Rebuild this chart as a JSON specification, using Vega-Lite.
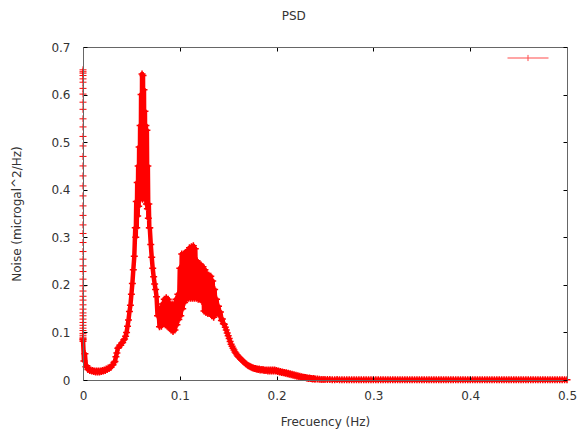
{
"$schema": "https://vega.github.io/schema/vega-lite/v6.json",
"width": 484, "height": 333,
"autosize": {"type": "none"},
"padding": {"left": 83, "top": 47, "right": 12, "bottom": 50},
"background": "white",
"title": {"text": "PSD", "fontSize": 12, "fontWeight": "normal", "font": "DejaVu Sans", "color": "#333", "frame": "bounds", "offset": 14},
"config": {"font": "DejaVu Sans", "view": {"stroke": null}},
"datasets": {
"psd": [
{"f":0.000,"p":0.085},{"f":0.001,"p":0.040},{"f":0.002,"p":0.055},{"f":0.003,"p":0.028},{"f":0.004,"p":0.030},
{"f":0.005,"p":0.022},{"f":0.006,"p":0.023},{"f":0.007,"p":0.020},{"f":0.008,"p":0.021},{"f":0.009,"p":0.019},
{"f":0.010,"p":0.020},{"f":0.011,"p":0.018},{"f":0.012,"p":0.019},{"f":0.013,"p":0.017},{"f":0.014,"p":0.019},
{"f":0.015,"p":0.017},{"f":0.016,"p":0.019},{"f":0.017,"p":0.017},{"f":0.018,"p":0.019},{"f":0.019,"p":0.018},
{"f":0.020,"p":0.020},{"f":0.021,"p":0.019},{"f":0.022,"p":0.021},{"f":0.023,"p":0.020},{"f":0.024,"p":0.023},
{"f":0.025,"p":0.022},{"f":0.026,"p":0.025},{"f":0.027,"p":0.024},{"f":0.028,"p":0.027},{"f":0.029,"p":0.027},
{"f":0.030,"p":0.031},{"f":0.031,"p":0.032},{"f":0.032,"p":0.037},{"f":0.033,"p":0.039},{"f":0.034,"p":0.049},
{"f":0.035,"p":0.057},{"f":0.036,"p":0.067},{"f":0.037,"p":0.069},{"f":0.038,"p":0.073},{"f":0.039,"p":0.073},
{"f":0.040,"p":0.078},{"f":0.041,"p":0.079},{"f":0.042,"p":0.084},{"f":0.043,"p":0.086},{"f":0.044,"p":0.092},
{"f":0.045,"p":0.100},{"f":0.046,"p":0.113},{"f":0.047,"p":0.126},{"f":0.048,"p":0.144},{"f":0.049,"p":0.157},
{"f":0.050,"p":0.180},{"f":0.051,"p":0.203},{"f":0.052,"p":0.232},{"f":0.053,"p":0.260},
{"f":0.0540,"p":0.320},{"f":0.0545,"p":0.300},{"f":0.0550,"p":0.375},{"f":0.0555,"p":0.320},
{"f":0.0560,"p":0.415},{"f":0.0565,"p":0.345},{"f":0.0570,"p":0.450},{"f":0.0575,"p":0.365},
{"f":0.0580,"p":0.490},{"f":0.0585,"p":0.380},{"f":0.0590,"p":0.535},{"f":0.0595,"p":0.390},
{"f":0.0600,"p":0.600},{"f":0.0605,"p":0.385},{"f":0.0610,"p":0.643},{"f":0.0615,"p":0.380},
{"f":0.0620,"p":0.640},{"f":0.0625,"p":0.385},{"f":0.0630,"p":0.610},{"f":0.0635,"p":0.385},
{"f":0.0640,"p":0.565},{"f":0.0645,"p":0.380},{"f":0.0650,"p":0.535},{"f":0.0655,"p":0.370},
{"f":0.0660,"p":0.525},{"f":0.0665,"p":0.360},{"f":0.0670,"p":0.450},{"f":0.0675,"p":0.340},
{"f":0.0680,"p":0.370},{"f":0.0685,"p":0.320},{"f":0.0690,"p":0.320},
{"f":0.070,"p":0.285},{"f":0.071,"p":0.258},{"f":0.072,"p":0.235},{"f":0.073,"p":0.217},{"f":0.074,"p":0.202},
{"f":0.075,"p":0.190},{"f":0.076,"p":0.175},{"f":0.077,"p":0.135},{"f":0.078,"p":0.152},{"f":0.079,"p":0.112},
{"f":0.080,"p":0.150},{"f":0.081,"p":0.113},{"f":0.082,"p":0.160},{"f":0.083,"p":0.118},{"f":0.084,"p":0.170},
{"f":0.085,"p":0.116},{"f":0.086,"p":0.173},{"f":0.087,"p":0.113},{"f":0.088,"p":0.170},{"f":0.089,"p":0.110},
{"f":0.090,"p":0.160},{"f":0.091,"p":0.105},{"f":0.092,"p":0.160},{"f":0.093,"p":0.102},{"f":0.094,"p":0.158},
{"f":0.095,"p":0.105},{"f":0.096,"p":0.170},{"f":0.097,"p":0.116},{"f":0.098,"p":0.180},{"f":0.099,"p":0.127},
{"f":0.100,"p":0.235},{"f":0.101,"p":0.135},{"f":0.102,"p":0.265},{"f":0.103,"p":0.150},{"f":0.104,"p":0.265},
{"f":0.105,"p":0.163},{"f":0.106,"p":0.268},{"f":0.107,"p":0.170},{"f":0.108,"p":0.272},{"f":0.109,"p":0.172},
{"f":0.110,"p":0.278},{"f":0.111,"p":0.172},{"f":0.112,"p":0.280},{"f":0.113,"p":0.172},{"f":0.114,"p":0.282},
{"f":0.115,"p":0.172},{"f":0.116,"p":0.276},{"f":0.117,"p":0.172},{"f":0.118,"p":0.250},{"f":0.119,"p":0.170},
{"f":0.120,"p":0.245},{"f":0.121,"p":0.170},{"f":0.122,"p":0.242},{"f":0.123,"p":0.165},{"f":0.124,"p":0.238},
{"f":0.125,"p":0.145},{"f":0.126,"p":0.232},{"f":0.127,"p":0.142},{"f":0.128,"p":0.224},{"f":0.129,"p":0.140},
{"f":0.130,"p":0.220},{"f":0.131,"p":0.140},{"f":0.132,"p":0.218},{"f":0.133,"p":0.135},{"f":0.134,"p":0.208},
{"f":0.135,"p":0.132},{"f":0.136,"p":0.190},{"f":0.137,"p":0.140},{"f":0.138,"p":0.170},{"f":0.139,"p":0.144},
{"f":0.140,"p":0.155},{"f":0.141,"p":0.135},{"f":0.142,"p":0.143},{"f":0.143,"p":0.125},{"f":0.144,"p":0.128},
{"f":0.145,"p":0.118},{"f":0.146,"p":0.117},{"f":0.147,"p":0.111},{"f":0.148,"p":0.105},{"f":0.149,"p":0.099},
{"f":0.150,"p":0.093},{"f":0.151,"p":0.087},{"f":0.152,"p":0.081},{"f":0.153,"p":0.075},{"f":0.154,"p":0.071},
{"f":0.155,"p":0.067},{"f":0.156,"p":0.063},{"f":0.157,"p":0.059},{"f":0.158,"p":0.056},{"f":0.159,"p":0.053},
{"f":0.160,"p":0.050},{"f":0.161,"p":0.048},{"f":0.162,"p":0.046},{"f":0.163,"p":0.044},{"f":0.164,"p":0.042},
{"f":0.165,"p":0.040},{"f":0.166,"p":0.038},{"f":0.167,"p":0.036},{"f":0.168,"p":0.034},{"f":0.169,"p":0.033},
{"f":0.170,"p":0.031},{"f":0.171,"p":0.030},{"f":0.172,"p":0.029},{"f":0.173,"p":0.028},{"f":0.174,"p":0.027},
{"f":0.175,"p":0.026},{"f":0.176,"p":0.025},{"f":0.177,"p":0.024},{"f":0.178,"p":0.024},{"f":0.179,"p":0.023},
{"f":0.180,"p":0.023},{"f":0.181,"p":0.022},{"f":0.182,"p":0.023},{"f":0.183,"p":0.021},{"f":0.184,"p":0.022},
{"f":0.185,"p":0.021},{"f":0.186,"p":0.022},{"f":0.187,"p":0.020},{"f":0.188,"p":0.021},{"f":0.189,"p":0.020},
{"f":0.190,"p":0.021},{"f":0.191,"p":0.019},{"f":0.192,"p":0.021},{"f":0.193,"p":0.019},{"f":0.194,"p":0.021},
{"f":0.195,"p":0.019},{"f":0.196,"p":0.021},{"f":0.197,"p":0.019},{"f":0.198,"p":0.021},{"f":0.199,"p":0.019},
{"f":0.200,"p":0.020},{"f":0.201,"p":0.018},{"f":0.202,"p":0.019},{"f":0.203,"p":0.017},{"f":0.204,"p":0.018},
{"f":0.205,"p":0.016},{"f":0.206,"p":0.017},{"f":0.207,"p":0.015},{"f":0.208,"p":0.016},{"f":0.209,"p":0.014},
{"f":0.210,"p":0.015},{"f":0.211,"p":0.013},{"f":0.212,"p":0.014},{"f":0.213,"p":0.012},{"f":0.214,"p":0.013},
{"f":0.215,"p":0.011},{"f":0.216,"p":0.012},{"f":0.217,"p":0.010},{"f":0.218,"p":0.011},{"f":0.219,"p":0.009},
{"f":0.220,"p":0.010},{"f":0.221,"p":0.008},{"f":0.222,"p":0.009},{"f":0.223,"p":0.007},{"f":0.224,"p":0.008},
{"f":0.225,"p":0.006},{"f":0.226,"p":0.007},{"f":0.227,"p":0.005},{"f":0.228,"p":0.006},{"f":0.229,"p":0.005},
{"f":0.230,"p":0.005},{"f":0.231,"p":0.004},{"f":0.232,"p":0.004},{"f":0.233,"p":0.003},{"f":0.234,"p":0.004},
{"f":0.235,"p":0.003},{"f":0.236,"p":0.003},{"f":0.237,"p":0.002},{"f":0.238,"p":0.003},{"f":0.239,"p":0.002},
{"f":0.240,"p":0.002},{"f":0.242,"p":0.002},{"f":0.244,"p":0.0015},{"f":0.246,"p":0.0012},{"f":0.248,"p":0.001},
{"f":0.250,"p":0.001},{"f":0.2525,"p":0.0009},{"f":0.255,"p":0.0008},{"f":0.2575,"p":0.0007},{"f":0.260,"p":0.0006},
{"f":0.2625,"p":0.0008},{"f":0.265,"p":0.0006},{"f":0.2675,"p":0.0007},{"f":0.270,"p":0.0005},{"f":0.2725,"p":0.0007},
{"f":0.275,"p":0.0005},{"f":0.2775,"p":0.0007},{"f":0.280,"p":0.0005},{"f":0.2825,"p":0.0006},{"f":0.285,"p":0.0005},
{"f":0.2875,"p":0.0006},{"f":0.290,"p":0.0005},{"f":0.2925,"p":0.0006},{"f":0.295,"p":0.0005},{"f":0.2975,"p":0.0006},
{"f":0.300,"p":0.0005},{"f":0.3025,"p":0.0006},{"f":0.305,"p":0.0005},{"f":0.3075,"p":0.0006},{"f":0.310,"p":0.0005},
{"f":0.3125,"p":0.0006},{"f":0.315,"p":0.0005},{"f":0.3175,"p":0.0006},{"f":0.320,"p":0.0005},{"f":0.3225,"p":0.0006},
{"f":0.325,"p":0.0005},{"f":0.3275,"p":0.0006},{"f":0.330,"p":0.0005},{"f":0.3325,"p":0.0006},{"f":0.335,"p":0.0005},
{"f":0.3375,"p":0.0006},{"f":0.340,"p":0.0005},{"f":0.3425,"p":0.0006},{"f":0.345,"p":0.0005},{"f":0.3475,"p":0.0006},
{"f":0.350,"p":0.0005},{"f":0.3525,"p":0.0006},{"f":0.355,"p":0.0005},{"f":0.3575,"p":0.0006},{"f":0.360,"p":0.0005},
{"f":0.3625,"p":0.0006},{"f":0.365,"p":0.0005},{"f":0.3675,"p":0.0006},{"f":0.370,"p":0.0005},{"f":0.3725,"p":0.0006},
{"f":0.375,"p":0.0005},{"f":0.3775,"p":0.0006},{"f":0.380,"p":0.0005},{"f":0.3825,"p":0.0006},{"f":0.385,"p":0.0005},
{"f":0.3875,"p":0.0006},{"f":0.390,"p":0.0005},{"f":0.3925,"p":0.0006},{"f":0.395,"p":0.0005},{"f":0.3975,"p":0.0006},
{"f":0.400,"p":0.0005},{"f":0.4025,"p":0.0006},{"f":0.405,"p":0.0005},{"f":0.4075,"p":0.0006},{"f":0.410,"p":0.0005},
{"f":0.4125,"p":0.0006},{"f":0.415,"p":0.0005},{"f":0.4175,"p":0.0006},{"f":0.420,"p":0.0005},{"f":0.4225,"p":0.0006},
{"f":0.425,"p":0.0005},{"f":0.4275,"p":0.0006},{"f":0.430,"p":0.0005},{"f":0.4325,"p":0.0006},{"f":0.435,"p":0.0005},
{"f":0.4375,"p":0.0006},{"f":0.440,"p":0.0005},{"f":0.4425,"p":0.0006},{"f":0.445,"p":0.0005},{"f":0.4475,"p":0.0006},
{"f":0.450,"p":0.0005},{"f":0.4525,"p":0.0006},{"f":0.455,"p":0.0005},{"f":0.4575,"p":0.0006},{"f":0.460,"p":0.0005},
{"f":0.4625,"p":0.0006},{"f":0.465,"p":0.0005},{"f":0.4675,"p":0.0006},{"f":0.470,"p":0.0005},{"f":0.4725,"p":0.0006},
{"f":0.475,"p":0.0005},{"f":0.4775,"p":0.0006},{"f":0.480,"p":0.0005},{"f":0.4825,"p":0.0006},{"f":0.485,"p":0.0005},
{"f":0.4875,"p":0.0006},{"f":0.490,"p":0.0005},{"f":0.4925,"p":0.0006},{"f":0.495,"p":0.0005},{"f":0.4975,"p":0.0006},
{"f":0.500,"p":0.0005}
],
"dc": [
{"f":0,"p":0.652},{"f":0,"p":0.648},{"f":0,"p":0.645},{"f":0,"p":0.640},{"f":0,"p":0.633},{"f":0,"p":0.626},
{"f":0,"p":0.613},{"f":0,"p":0.601},{"f":0,"p":0.584},{"f":0,"p":0.569},{"f":0,"p":0.549},{"f":0,"p":0.532},
{"f":0,"p":0.512},{"f":0,"p":0.492},{"f":0,"p":0.470},{"f":0,"p":0.450},{"f":0,"p":0.429},{"f":0,"p":0.408},
{"f":0,"p":0.387},{"f":0,"p":0.366},{"f":0,"p":0.346},{"f":0,"p":0.326},{"f":0,"p":0.308},{"f":0,"p":0.289},
{"f":0,"p":0.270},{"f":0,"p":0.254},{"f":0,"p":0.240},{"f":0,"p":0.228},{"f":0,"p":0.212},{"f":0,"p":0.198},
{"f":0,"p":0.187},{"f":0,"p":0.176},{"f":0,"p":0.168},{"f":0,"p":0.158},{"f":0,"p":0.149},{"f":0,"p":0.141},
{"f":0,"p":0.135},{"f":0,"p":0.128},{"f":0,"p":0.121},{"f":0,"p":0.115},{"f":0,"p":0.109},{"f":0,"p":0.104},
{"f":0,"p":0.098},{"f":0,"p":0.094},{"f":0,"p":0.090},{"f":0,"p":0.087},{"f":0,"p":0.084},{"f":0,"p":0.081}
]
},
"layer": [
{"data": {"name": "psd"},
 "mark": {"type": "line", "color": "#ff0000", "strokeWidth": 4.5, "strokeJoin": "round", "clip": false},
 "encoding": {
  "x": {"field": "f", "type": "quantitative", "scale": {"domain": [0, 0.5], "nice": false, "zero": false},
        "axis": {"orient": "bottom", "values": [0, 0.1, 0.2, 0.3, 0.4, 0.5], "format": "~g", "title": "Frecuency (Hz)", "grid": false,
                 "tickSize": -4, "tickColor": "#000", "domain": true, "domainColor": "#666", "zindex": 1, "labelFlush": false,
                 "labelPadding": 14, "labelFont": "DejaVu Sans", "labelFontSize": 12, "labelColor": "#333",
                 "titleFont": "DejaVu Sans", "titleFontSize": 12, "titleFontWeight": "normal", "titleColor": "#333", "titlePadding": 15}},
  "y": {"field": "p", "type": "quantitative", "scale": {"domain": [0, 0.7], "nice": false},
        "axis": {"orient": "left", "values": [0, 0.1, 0.2, 0.3, 0.4, 0.5, 0.6, 0.7], "format": "~g", "title": "Noise (microgal^2/Hz)", "grid": false,
                 "tickSize": -4, "tickColor": "#000", "domain": true, "domainColor": "#666", "zindex": 1, "labelFlush": false,
                 "labelPadding": 17, "labelFont": "DejaVu Sans", "labelFontSize": 12, "labelColor": "#333",
                 "titleFont": "DejaVu Sans", "titleFontSize": 12, "titleFontWeight": "normal", "titleColor": "#333", "titlePadding": 27}},
  "color": {"datum": "PSD", "scale": {"range": ["#ff0000"]},
            "legend": {"orient": "none", "legendX": 424, "legendY": -10, "title": null, "labelExpr": "''", "padding": 0,
                       "symbolType": "M-1,0H1M0,-0.15V0.15", "symbolSize": 1681, "symbolStrokeWidth": 1,
                       "symbolStrokeColor": "#ff0000", "symbolFillColor": "transparent", "symbolOpacity": 0.7}}
 }},
{"data": {"name": "psd"},
 "mark": {"type": "point", "shape": "M-1,0H1M0,-1V1", "filled": true, "size": 49, "strokeWidth": 1.5, "color": "#ff0000", "fill": "#ff0000", "stroke": "#ff0000", "opacity": 1, "fillOpacity": 1, "strokeOpacity": 1, "clip": false},
 "encoding": {
  "x": {"field": "f", "type": "quantitative", "axis": null},
  "y": {"field": "p", "type": "quantitative", "axis": null}
 }},
{"data": {"name": "dc"},
 "mark": {"type": "point", "shape": "M-1,0H1M0,-1V1", "filled": true, "size": 49, "strokeWidth": 1, "color": "#ff0000", "fill": "#ff0000", "stroke": "#ff0000", "opacity": 1, "fillOpacity": 1, "strokeOpacity": 1, "clip": false},
 "encoding": {
  "x": {"field": "f", "type": "quantitative",
        "axis": {"orient": "top", "values": [0, 0.1, 0.2, 0.3, 0.4, 0.5], "labels": false, "title": null, "grid": false,
                 "tickSize": -4, "tickColor": "#000", "domain": true, "domainColor": "#666", "zindex": 1}},
  "y": {"field": "p", "type": "quantitative",
        "axis": {"orient": "right", "values": [0, 0.1, 0.2, 0.3, 0.4, 0.5, 0.6, 0.7], "labels": false, "title": null, "grid": false,
                 "tickSize": -4, "tickColor": "#000", "domain": true, "domainColor": "#666", "zindex": 1}}
 }}
],
"resolve": {"axis": {"x": "independent", "y": "independent"}}
}
